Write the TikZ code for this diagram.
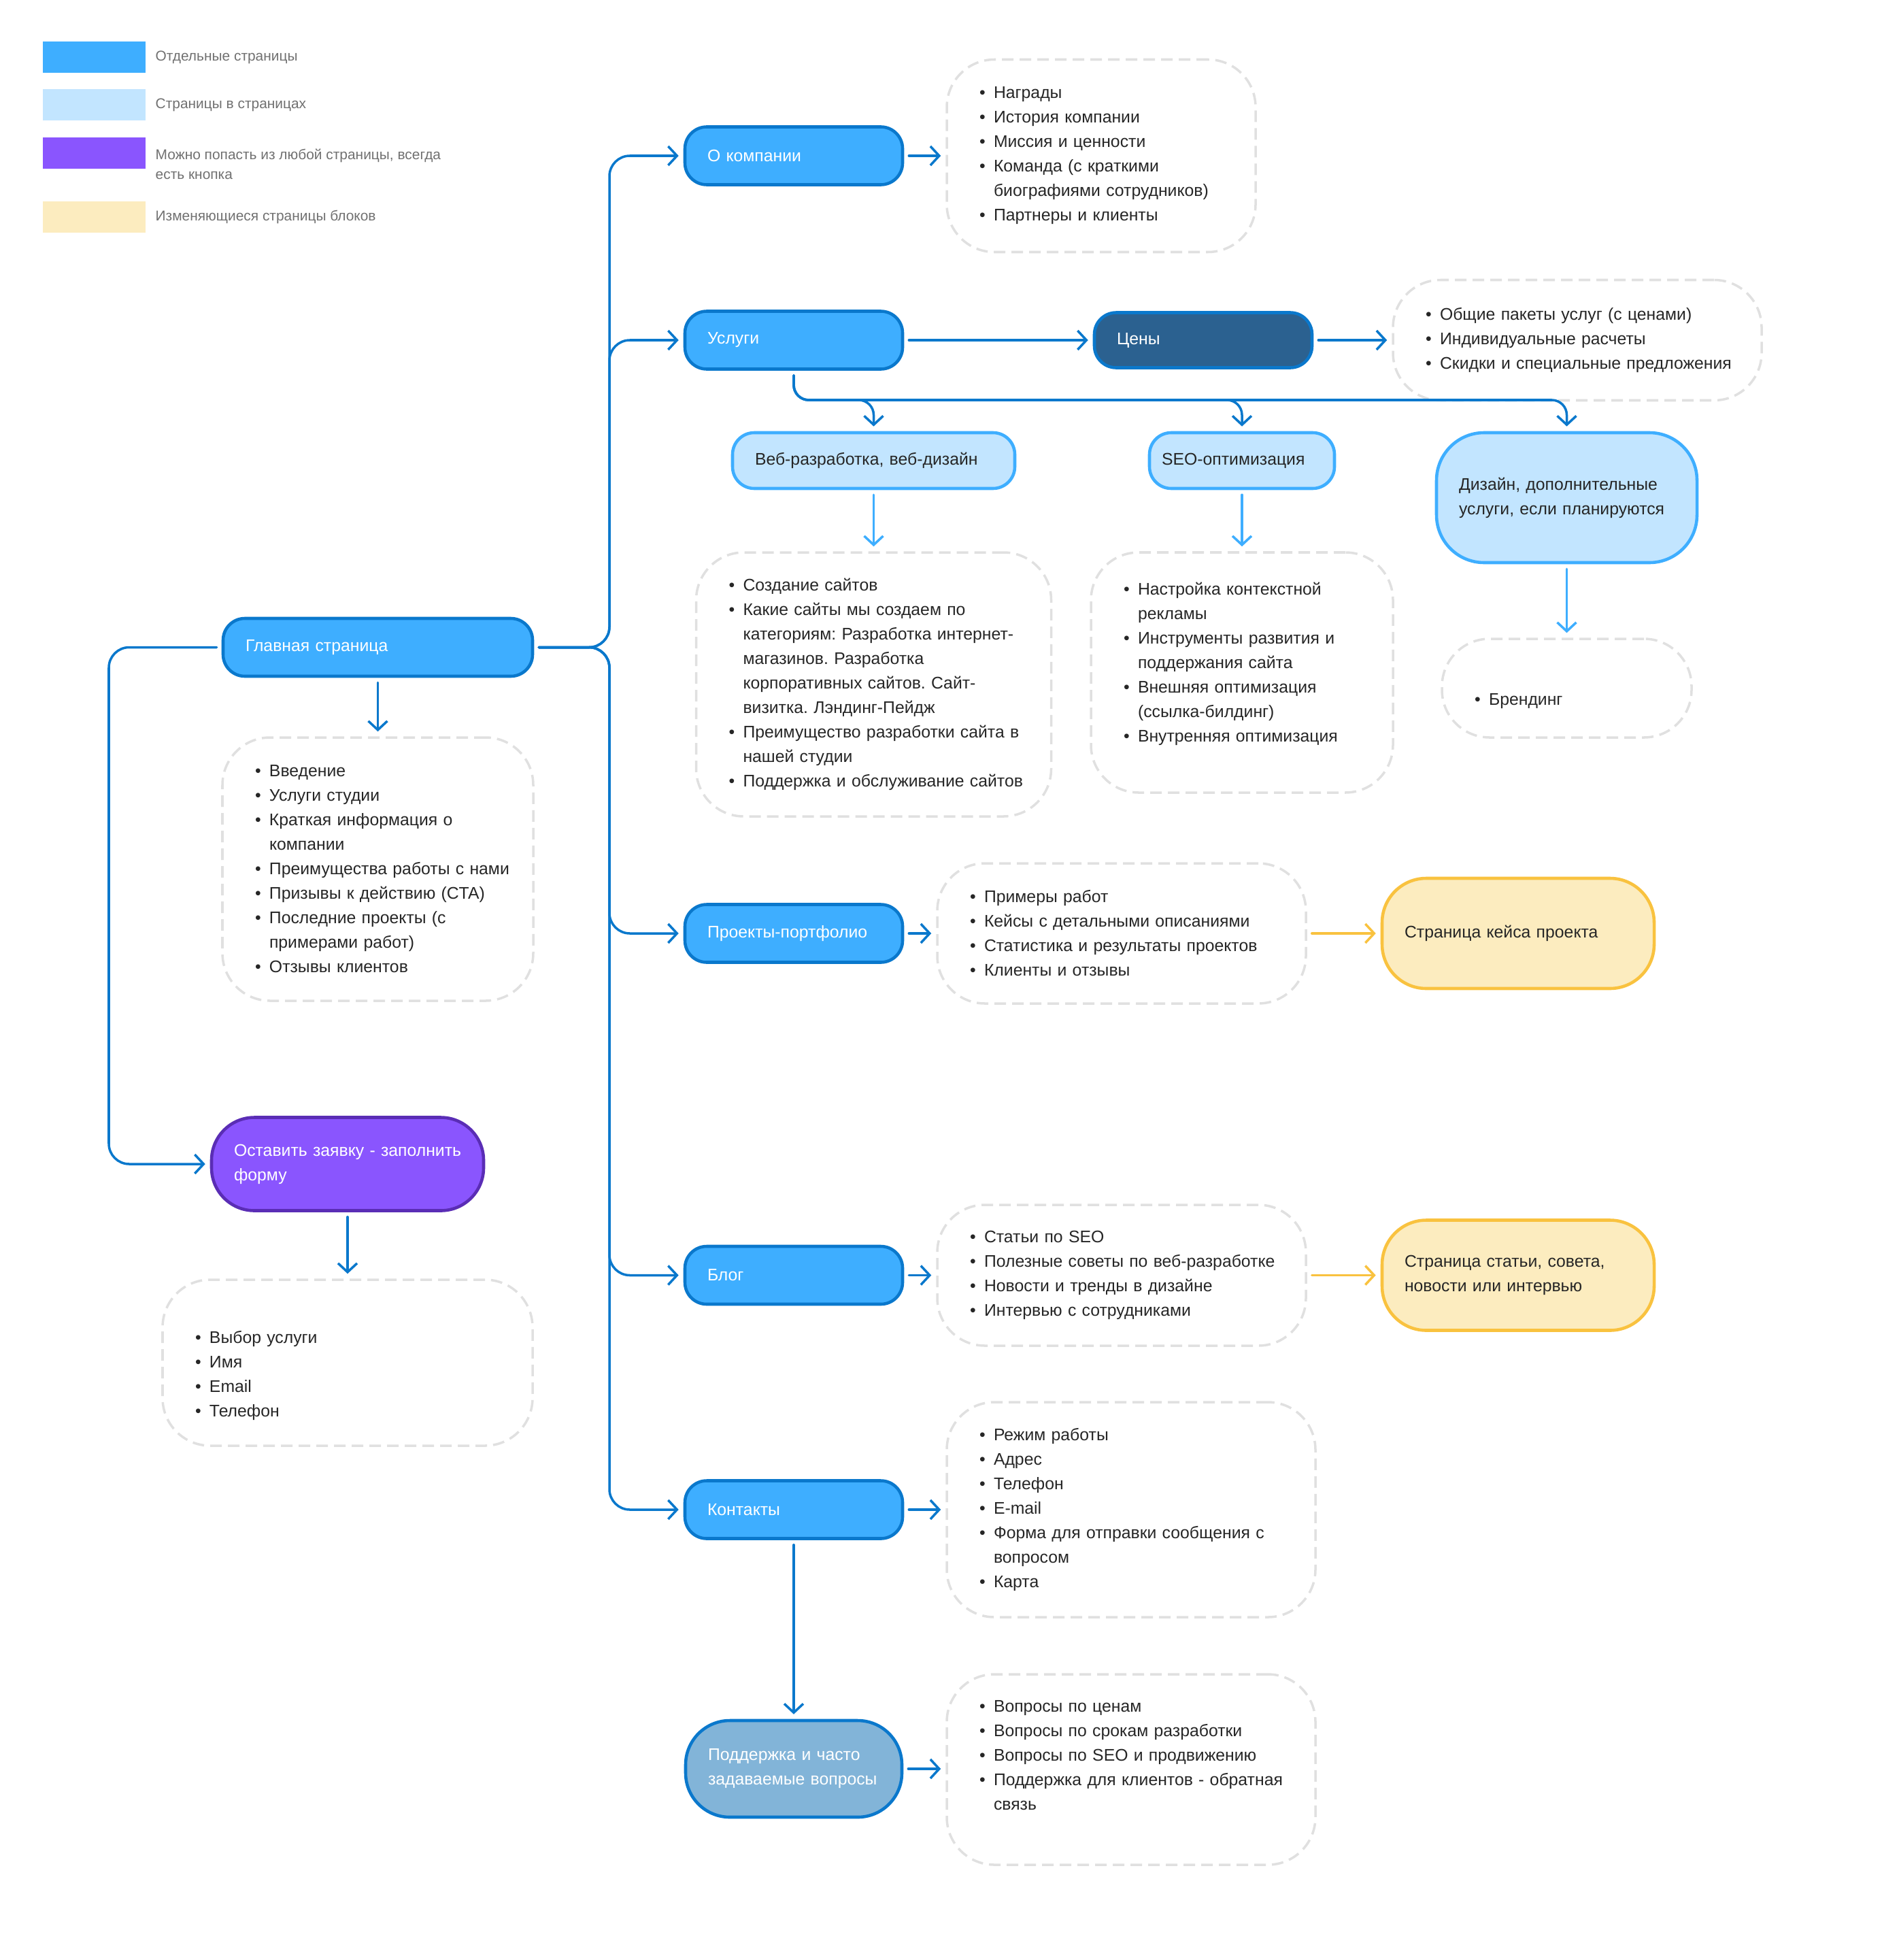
\documentclass[tikz,border=0pt]{standalone}
\usepackage{fontspec}
\setmainfont{Liberation Sans}
\usetikzlibrary{arrows.meta}

\definecolor{pageblue}{HTML}{3EAEFF}
\definecolor{linkblue}{HTML}{0A78CC}
\definecolor{subblue}{HTML}{C2E5FF}
\definecolor{priceblue}{HTML}{2B6190}
\definecolor{formviolet}{HTML}{8A55FE}
\definecolor{formedge}{HTML}{5A2DB5}
\definecolor{faqblue}{HTML}{82B4D8}
\definecolor{caseyellow}{HTML}{FCECBF}
\definecolor{caseedge}{HTML}{F9C23F}
\definecolor{dashgray}{HTML}{E0E0E0}
\definecolor{listtext}{HTML}{262626}
\definecolor{legendtext}{HTML}{707070}

\frenchspacing
\begin{document}
\begin{tikzpicture}[
    >={Straight Barb[length = 1.3mm, width = 2.8mm]},
    every node/.style = {font = \fontsize{7.05}{10.24}\selectfont},
    card/.style = {rounded corners = 3.2mm, line width = 1.3pt, align = left, inner xsep = 3.3mm, inner ysep = 0pt},
    page/.style = {card, draw = linkblue, fill = pageblue, text = white, text width = 25.4mm, minimum height = 8.5mm},
    subpage/.style = {card, draw = pageblue, fill = subblue, text = listtext},
    block/.style = {card, draw = caseedge, fill = caseyellow, text = listtext, rounded corners = 6.5mm},
    info/.style = {draw = dashgray, line width = 1pt, dash pattern = on 1.7mm off 0.9mm, rounded corners = 7mm, align = left, inner xsep = 4.8mm, inner ysep = 0pt, text = listtext},
    link/.style = {->, draw = linkblue, line width = 1pt, line cap = round, shorten < = .7mm, shorten > = .7mm},
    sublink/.style = {link, draw = pageblue},
    blocklink/.style = {link, draw = caseedge},
]
    \def\itm#1{\makebox[2.1mm][l]{•}\mbox{#1}}
    \def\wrp#1{\hspace*{2.1mm}\mbox{#1}}
    \useasboundingbox (0, 0) rectangle (27.92, -28.81);

    %%%%%%%%%% legend %%%%%%%%%%%%%%%%%%%
    \foreach \ry/\ty/\col/\txt [count = \i] in {0.84/0.84/pageblue/{Отдельные страницы}, 1.54/1.54/subblue/{Страницы в страницах}, 2.25/2.415/formviolet/{Можно попасть из любой страницы, всегда\\есть кнопка}, 3.19/3.19/caseyellow/{Изменяющиеся страницы блоков}} {
        \node [fill = \col, minimum width = 15.1mm, minimum height = 4.6mm, inner sep = 0pt] (key\i) at (1.385, -\ry) {};
        \node [anchor = west, align = left, text = legendtext, font = \fontsize{5.95}{8.2}\selectfont, inner sep = 0pt] (keytext\i) at (2.28, -\ty) {\txt};
    }

    %%%%%%%%%% pages %%%%%%%%%%%%%%%%%%%
    \node [page, text width = 38.9mm] (main) at (5.555, -9.515) {Главная страница};
    \node [page] (about) at (11.67, -2.29) {О компании};
    \node [page] (services) at (11.67, -5.0) {Услуги};
    \node [page, fill = priceblue, minimum height = 8.1mm] (prices) at (17.69, -5.0) {Цены};
    \node [page] (portfolio) at (11.67, -13.72) {Проекты-портфолио};
    \node [page] (blog) at (11.67, -18.745) {Блог};
    \node [page] (contacts) at (11.67, -22.19) {Контакты};
    \node [page, fill = faqblue, text width = 25.2mm, minimum height = 14.2mm, rounded corners = 6.5mm] (support) at (11.67, -26.0) {Поддержка и часто\\\mbox{задаваемые вопросы}};
    \node [page, draw = formedge, fill = formviolet, text width = 33.4mm, minimum height = 13.7mm, rounded corners = 6.3mm] (apply) at (5.11, -17.11) {\mbox{Оставить заявку - заполнить}\\форму};

    %%%%%%%%%% pages in pages %%%%%%%%%%%%%%%%%%%
    \node [subpage, text width = 34.9mm, minimum height = 8.2mm] (web) at (12.845, -6.77) {Веб-разработка, веб-дизайн};
    \node [subpage, inner xsep = 1.8mm, text width = 23.6mm, minimum height = 8.2mm] (seo) at (18.26, -6.77) {SEO-оптимизация};
    \node [subpage, text width = 31.7mm, minimum height = 19.1mm, rounded corners = 7mm] (design) at (23.035, -7.315) {\mbox{Дизайн, дополнительные}\\\mbox{услуги, если планируются}};
    \node [block, text width = 33.4mm, minimum height = 16.2mm] (case) at (22.32, -13.72) {Страница кейса проекта};
    \node [block, text width = 33.4mm, minimum height = 16.2mm] (article) at (22.32, -18.745) {\mbox{Страница статьи, совета,}\\новости или интервью};

    %%%%%%%%%% contents %%%%%%%%%%%%%%%%%%%
    \node [info, text width = 35.8mm, minimum height = 28.3mm] (aboutinfo) at (16.19, -2.29) {\itm{Награды}\\\itm{История компании}\\\itm{Миссия и ценности}\\\itm{Команда (с краткими}\\\wrp{биографиями сотрудников)}\\\itm{Партнеры и клиенты}};
    \node [info, text width = 44.6mm, minimum height = 17.7mm] (priceinfo) at (23.19, -5.0) {\itm{Общие пакеты услуг (с ценами)}\\\itm{Индивидуальные расчеты}\\\itm{Скидки и специальные предложения}};
    \node [info, text width = 36.1mm, minimum height = 38.7mm] (maininfo) at (5.555, -12.775) {\itm{Введение}\\\itm{Услуги студии}\\\itm{Краткая информация о}\\\wrp{компании}\\\itm{Преимущества работы с нами}\\\itm{Призывы к действию (CTA)}\\\itm{Последние проекты (с}\\\wrp{примерами работ)}\\\itm{Отзывы клиентов}};
    \node [info, text width = 42.6mm, minimum height = 38.8mm] (webinfo) at (12.845, -10.06) {\itm{Создание сайтов}\\\itm{Какие сайты мы создаем по}\\\wrp{категориям: Разработка интернет-}\\\wrp{магазинов. Разработка}\\\wrp{корпоративных сайтов. Сайт-}\\\wrp{визитка. Лэндинг-Пейдж}\\\itm{Преимущество разработки сайта в}\\\wrp{нашей студии}\\\itm{Поддержка и обслуживание сайтов}};
    \node [info, text width = 34.8mm, minimum height = 35.3mm] (seoinfo) at (18.26, -9.885) {\itm{Настройка контекстной}\\\wrp{рекламы}\\\itm{Инструменты развития и}\\\wrp{поддержания сайта}\\\itm{Внешняя оптимизация}\\\wrp{(ссылка-билдинг)}\\\itm{Внутренняя оптимизация}\rule[-3.1mm]{0pt}{3.1mm}};
    \node [info, text width = 27.1mm, minimum height = 14.5mm] (brandinfo) at (23.035, -10.115) {\rule{0pt}{5.5mm}\itm{Брендинг}};
    \node [info, text width = 44.6mm, minimum height = 20.6mm] (portinfo) at (16.49, -13.72) {\itm{Примеры работ}\\\itm{Кейсы с детальными описаниями}\\\itm{Статистика и результаты проектов}\\\itm{Клиенты и отзывы}};
    \node [info, text width = 44.6mm, minimum height = 20.7mm] (bloginfo) at (16.49, -18.745) {\itm{Статьи по SEO}\\\itm{Полезные советы по веб-разработке}\\\itm{Новости и тренды в дизайне}\\\itm{Интервью с сотрудниками}};
    \node [info, text width = 44.6mm, minimum height = 31.6mm] (continfo) at (16.63, -22.19) {\itm{Режим работы}\\\itm{Адрес}\\\itm{Телефон}\\\itm{E-mail}\\\itm{Форма для отправки сообщения с}\\\wrp{вопросом}\\\itm{Карта}};
    \node [info, text width = 44.6mm, minimum height = 28mm] (faqinfo) at (16.63, -26.01) {\itm{Вопросы по ценам}\\\itm{Вопросы по срокам разработки}\\\itm{Вопросы по SEO и продвижению}\\\itm{Поддержка для клиентов - обратная}\\\wrp{связь}\rule[-4.2mm]{0pt}{4.2mm}};
    \node [info, text width = 44.8mm, minimum height = 24.4mm] (forminfo) at (5.11, -20.03) {\rule{0pt}{5.6mm}\itm{Выбор услуги}\\\itm{Имя}\\\itm{Email}\\\itm{Телефон}};

    %%%%%%%%%% links %%%%%%%%%%%%%%%%%%%
    \coordinate (trunk) at (8.96, -9.515);
    \coordinate (lefttrunk) at (1.60, -9.515);
    \coordinate (bus) at (11.67, -5.88);

    \foreach \target in {about, services, portfolio, blog, contacts}
        \draw [link, rounded corners = 3mm] (main.east) -- (trunk) |- (\target.west);
    \draw [link, rounded corners = 3mm] (main.west) -- (lefttrunk) |- (apply.west);
    \draw [link] (main.south) -- (maininfo.north);
    \draw [link] (apply.south) -- (forminfo.north);

    \draw [link] (about.east) -- (about.east -| aboutinfo.west);
    \draw [link] (services.east) -- (prices.west);
    \draw [link] (prices.east) -- (prices.east -| priceinfo.west);
    \foreach \sub in {web, seo, design}
        \draw [link, rounded corners = 2.2mm] (services.south) |- (\sub.north |- bus) -- (\sub.north);

    \draw [sublink] (web.south) -- (webinfo.north);
    \draw [sublink] (seo.south) -- (seoinfo.north);
    \draw [sublink] (design.south) -- (brandinfo.north);

    \draw [link] (portfolio.east) -- (portfolio.east -| portinfo.west);
    \draw [blocklink] (portinfo.east) -- (case.west);
    \draw [link] (blog.east) -- (blog.east -| bloginfo.west);
    \draw [blocklink] (bloginfo.east) -- (article.west);
    \draw [link] (contacts.east) -- (contacts.east -| continfo.west);
    \draw [link] (contacts.south) -- (support.north);
    \draw [link] (support.east) -- (support.east -| faqinfo.west);
\end{tikzpicture}
\end{document}
